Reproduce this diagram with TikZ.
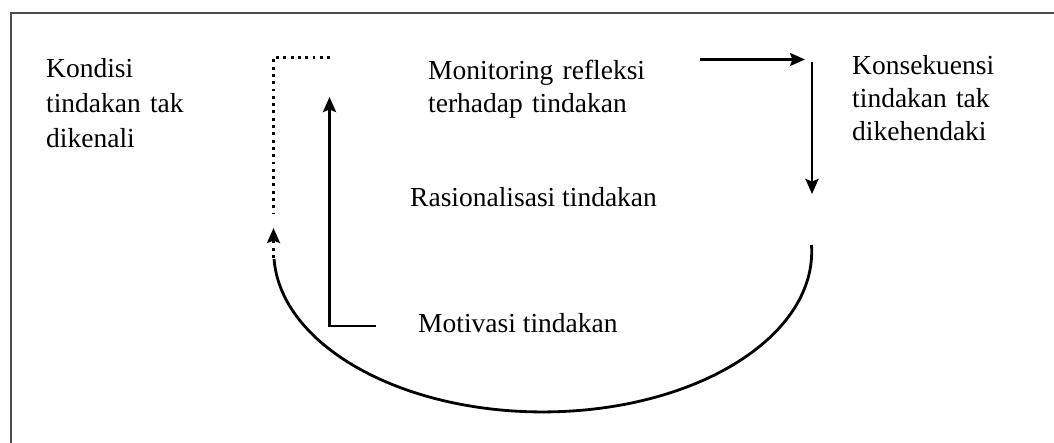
\documentclass[tikz,border=0pt]{standalone}
\usepackage{fontspec}
\setmainfont{Liberation Serif}
\usetikzlibrary{arrows.meta}
\tikzset{
  lbl/.style={anchor=base west, inner sep=0pt, font=\fontsize{27.5}{33}\selectfont},
  mlbl/.style={lbl, text width=320pt, align=left},
  conn/.style={line width=2.8pt, -{Stealth[length=15pt,width=13pt,inset=2.5pt]}},
  plain/.style={line width=2.8pt},
  dots/.style={line width=2.9pt, dash pattern=on 2.9pt off 4.4pt},
  frame/.style={line width=2pt, draw=black!70}
}
\begin{document}
\begin{tikzpicture}[x=1pt,y=-1pt]
\useasboundingbox (0,0) rectangle (1054,443);
\fill[white] (0,0) rectangle (1054,443);
\draw[frame] (10.5,443) -- (10.5,13.5) -- (1054,13.5);
% labels
\node[mlbl, font=\fontsize{27.5}{35}\selectfont] (kondisi) at (46,78) {Kondisi\\tindakan tak\\dikenali};
\node[mlbl] (monitor) at (428,80) {Monitoring refleksi\\terhadap tindakan};
\node[mlbl] (konsek) at (852,75) {Konsekuensi\\tindakan tak\\dikehendaki};
\node[lbl] (rasional) at (410,207) {Rasionalisasi tindakan};
\node[lbl] (motivasi) at (418,332) {Motivasi tindakan};
% coordinates
\coordinate (dTop) at (330,57.5);
\coordinate (dCorner) at (273.5,57.5);
\coordinate (dBottom) at (273.5,213);
\coordinate (rA) at (700,59.5);
\coordinate (rB) at (805,59.5);
\coordinate (vA) at (812,62);
\coordinate (vB) at (812,194);
\coordinate (cR) at (811.5,245);
\coordinate (cL) at (273.5,258);
\coordinate (cTip) at (273.5,228);
\coordinate (mCorner) at (329.5,326);
\coordinate (mRight) at (376,326);
\coordinate (mTip) at (329.5,97);
% connectors
\draw[dots, line cap=butt] (dTop) -- (dCorner) -- (dBottom);
\draw[conn] (rA) -- (rB);
\draw[conn] (vA) -- (vB);
\draw[plain] (cR) arc[start angle=-2.3, end angle=177.3, x radius=269, y radius=160.5];
\draw[dots, -{Stealth[length=15pt,width=13pt,inset=2.5pt]}] (cL) -- (cTip);
\draw[conn] (mRight) -- (mCorner) -- (mTip);
\end{tikzpicture}
\end{document}
